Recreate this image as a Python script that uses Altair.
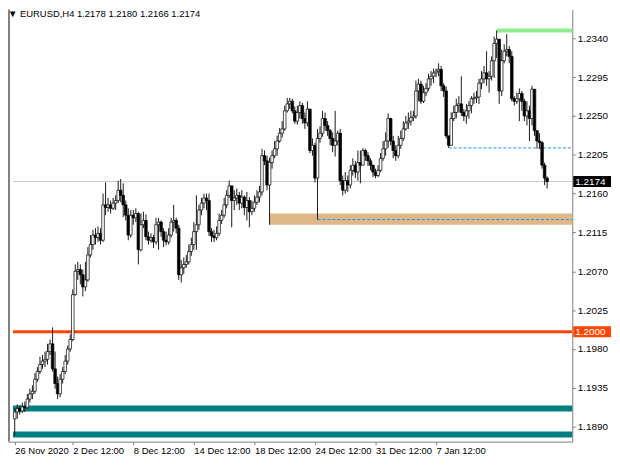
import altair as alt
import pandas as pd

# ---------------- data ----------------
symbol = "EURUSD,H4"
first_open = 1.1899

closes = [
    1.1907, 1.1911, 1.1908, 1.1913, 1.1912, 1.1922, 1.1928, 1.1931, 1.1945, 1.1954,
    1.1962, 1.1966, 1.1968, 1.1977, 1.1986, 1.1957, 1.1940, 1.1928, 1.1945, 1.1954,
    1.1966, 1.1980, 1.1991, 1.2043, 1.2070, 1.2072, 1.2066, 1.2052, 1.2060, 1.2089,
    1.2101, 1.2112, 1.2109, 1.2114, 1.2106, 1.2147, 1.2144, 1.2147, 1.2143, 1.2149,
    1.2152, 1.2164, 1.2158, 1.2147, 1.2135, 1.2112, 1.2135, 1.2132, 1.2137, 1.2095,
    1.2124, 1.2129, 1.2110, 1.2106, 1.2109, 1.2104, 1.2124, 1.2127, 1.2116, 1.2106,
    1.2104, 1.2112, 1.2127, 1.2129, 1.2120, 1.2066, 1.2074, 1.2078, 1.2081, 1.2093,
    1.2101, 1.2116, 1.2124, 1.2141, 1.2149, 1.2155, 1.2152, 1.2116, 1.2111, 1.2109,
    1.2114, 1.2129, 1.2135, 1.2147, 1.2158, 1.2169, 1.2152, 1.2155, 1.2158, 1.2149,
    1.2156, 1.2144, 1.2152, 1.2139, 1.2143, 1.2150, 1.2156, 1.2162, 1.2204, 1.2198,
    1.2170, 1.2196, 1.2204, 1.2212, 1.2221, 1.2230, 1.2235, 1.2256, 1.2264, 1.2267,
    1.2256, 1.2244, 1.2254, 1.2262, 1.2247, 1.2242, 1.2258, 1.2210, 1.2216, 1.2178,
    1.2224, 1.2230, 1.2247, 1.2239, 1.2233, 1.2224, 1.2216, 1.2221, 1.2230, 1.2175,
    1.2164, 1.2175, 1.2170, 1.2187, 1.2193, 1.2185, 1.2196, 1.2193, 1.2210, 1.2204,
    1.2198, 1.2193, 1.2185, 1.2181, 1.2187, 1.2201, 1.2212, 1.2221, 1.2247, 1.2221,
    1.2210, 1.2204, 1.2216, 1.2224, 1.2235, 1.2242, 1.2244, 1.2248, 1.2250, 1.2279,
    1.2287, 1.2267, 1.2277, 1.2282, 1.2293, 1.2296, 1.2300, 1.2302, 1.2304, 1.2285,
    1.2279, 1.2227, 1.2216, 1.2247, 1.2254, 1.2262, 1.2264, 1.2254, 1.2250, 1.2256,
    1.2262, 1.2270, 1.2271, 1.2272, 1.2288, 1.2293, 1.2300, 1.2293, 1.2296, 1.2314,
    1.2334, 1.2339, 1.2279, 1.2314, 1.2325, 1.2327, 1.2319, 1.2270, 1.2267, 1.2270,
    1.2276, 1.2267, 1.2250, 1.2256, 1.2247, 1.2281, 1.2233, 1.2221, 1.2219, 1.2193,
    1.2178, 1.2174,
]

highs = [
    1.1911, 1.1916, 1.1915, 1.1918, 1.1919, 1.1928, 1.1934, 1.1938, 1.1952, 1.1959,
    1.1971, 1.1973, 1.1977, 1.1986, 1.1991, 1.2005, 1.1977, 1.1948, 1.1951, 1.1959,
    1.1973, 1.1984, 1.1997, 1.2049, 1.2078, 1.2081, 1.2078, 1.2072, 1.2081, 1.2098,
    1.2112, 1.2118, 1.2120, 1.2122, 1.2120, 1.2160, 1.2173, 1.2155, 1.2152, 1.2155,
    1.2158, 1.2175, 1.2177, 1.2172, 1.2152, 1.2143, 1.2141, 1.2141, 1.2143, 1.2139,
    1.2137, 1.2139, 1.2136, 1.2116, 1.2114, 1.2112, 1.2132, 1.2132, 1.2129, 1.2120,
    1.2116, 1.2120, 1.2132, 1.2147, 1.2132, 1.2124, 1.2083, 1.2086, 1.2089, 1.2101,
    1.2109, 1.2127, 1.2158, 1.2147, 1.2155, 1.2160, 1.2160, 1.2160, 1.2120, 1.2118,
    1.2122, 1.2137, 1.2141, 1.2155, 1.2164, 1.2175, 1.2169, 1.2164, 1.2166, 1.2162,
    1.2164, 1.2158, 1.2162, 1.2156, 1.2152, 1.2158, 1.2164, 1.2169, 1.2212, 1.2210,
    1.2204, 1.2202, 1.2210, 1.2221, 1.2227, 1.2236, 1.2244, 1.2262, 1.2271, 1.2271,
    1.2270, 1.2261, 1.2262, 1.2267, 1.2265, 1.2254, 1.2267, 1.2258, 1.2224, 1.2219,
    1.2235, 1.2238, 1.2256, 1.2254, 1.2244, 1.2235, 1.2231, 1.2256, 1.2233, 1.2235,
    1.2181, 1.2185, 1.2181, 1.2193, 1.2201, 1.2198, 1.2210, 1.2210, 1.2213, 1.2212,
    1.2208, 1.2201, 1.2193, 1.2189, 1.2193, 1.2207, 1.2221, 1.2231, 1.2253, 1.2248,
    1.2227, 1.2216, 1.2227, 1.2233, 1.2244, 1.2250, 1.2254, 1.2256, 1.2256, 1.2291,
    1.2293, 1.2291, 1.2285, 1.2288, 1.2299, 1.2302, 1.2305, 1.2305, 1.2311, 1.2308,
    1.2288, 1.2284, 1.2227, 1.2254, 1.2262, 1.2270, 1.2273, 1.2296, 1.2258, 1.2264,
    1.2267, 1.2273, 1.2277, 1.2279, 1.2293, 1.2302, 1.2308, 1.2325, 1.2302, 1.2319,
    1.2342, 1.2349, 1.2337, 1.2327, 1.2333, 1.2345, 1.2331, 1.2325, 1.2273, 1.2277,
    1.2282, 1.2279, 1.2270, 1.2267, 1.2262, 1.2285, 1.2281, 1.2233, 1.2230, 1.2221,
    1.2196, 1.2180,
]

lows = [
    1.1879, 1.1899, 1.1904, 1.1906, 1.1907, 1.1911, 1.1918, 1.1922, 1.1928, 1.1942,
    1.1951, 1.1957, 1.1959, 1.1962, 1.1973, 1.1954, 1.1934, 1.1922, 1.1924, 1.1940,
    1.1951, 1.1962, 1.1977, 1.1989, 1.2042, 1.2060, 1.2055, 1.2041, 1.2047, 1.2058,
    1.2086, 1.2095, 1.2101, 1.2104, 1.2101, 1.2104, 1.2135, 1.2139, 1.2137, 1.2141,
    1.2141, 1.2149, 1.2150, 1.2133, 1.2129, 1.2106, 1.2109, 1.2124, 1.2127, 1.2078,
    1.2093, 1.2120, 1.2106, 1.2101, 1.2103, 1.2097, 1.2101, 1.2095, 1.2110, 1.2098,
    1.2100, 1.2101, 1.2109, 1.2116, 1.2114, 1.2060, 1.2057, 1.2067, 1.2074, 1.2078,
    1.2088, 1.2095, 1.2095, 1.2118, 1.2135, 1.2143, 1.2141, 1.2111, 1.2104, 1.2104,
    1.2106, 1.2111, 1.2125, 1.2132, 1.2143, 1.2155, 1.2121, 1.2141, 1.2147, 1.2141,
    1.2143, 1.2135, 1.2129, 1.2121, 1.2135, 1.2139, 1.2147, 1.2150, 1.2158, 1.2193,
    1.2164, 1.2124, 1.2189, 1.2201, 1.2204, 1.2219, 1.2225, 1.2233, 1.2254, 1.2258,
    1.2253, 1.2241, 1.2240, 1.2247, 1.2241, 1.2235, 1.2238, 1.2207, 1.2204, 1.2173,
    1.2130, 1.2219, 1.2226, 1.2233, 1.2227, 1.2216, 1.2208, 1.2203, 1.2216, 1.2170,
    1.2158, 1.2160, 1.2162, 1.2166, 1.2181, 1.2178, 1.2175, 1.2172, 1.2193, 1.2198,
    1.2192, 1.2187, 1.2179, 1.2178, 1.2179, 1.2185, 1.2198, 1.2204, 1.2213, 1.2216,
    1.2201, 1.2198, 1.2201, 1.2212, 1.2221, 1.2233, 1.2235, 1.2239, 1.2244, 1.2247,
    1.2267, 1.2264, 1.2265, 1.2273, 1.2279, 1.2285, 1.2288, 1.2295, 1.2296, 1.2279,
    1.2272, 1.2224, 1.2213, 1.2216, 1.2244, 1.2247, 1.2254, 1.2250, 1.2244, 1.2241,
    1.2247, 1.2253, 1.2264, 1.2265, 1.2264, 1.2281, 1.2288, 1.2285, 1.2277, 1.2291,
    1.2294, 1.2317, 1.2264, 1.2273, 1.2311, 1.2319, 1.2311, 1.2267, 1.2262, 1.2264,
    1.2244, 1.2256, 1.2244, 1.2239, 1.2221, 1.2239, 1.2227, 1.2212, 1.2212, 1.2189,
    1.2170, 1.2166,
]

tick_bars = [0, 23, 47, 71, 95, 119, 143, 167]
tick_labels = ["26 Nov 2020", "2 Dec 12:00", "8 Dec 12:00", "14 Dec 12:00",
               "18 Dec 12:00", "24 Dec 12:00", "31 Dec 12:00", "7 Jan 12:00"]
price_ticks = [1.1890, 1.1935, 1.1980, 1.2025, 1.2070, 1.2115,
               1.2160, 1.2205, 1.2250, 1.2295, 1.2340]

round_level = 1.2000
support_levels = [1.1911, 1.1881]
zone_start_bar = 101
zone_low, zone_high = 1.2124, 1.2137
dash_start_bars = [120, 172]
dash_levels = [1.2130, 1.2213]
high_bar, high_level = 191, 1.2349

# ---------------- frame ----------------
W, H = 568, 435
x_domain = [-0.7, 219]
y_domain = [1.18727, 1.23734]

opens = [first_open] + closes[:-1]
rows = []
for i, (o, h, l, c) in enumerate(zip(opens, highs, lows, closes)):
    rows.append({"bar": i, "open": o, "close": c,
                 "high": max(h, o, c), "low": min(l, o, c),
                 "dir": "up" if c >= o else "down"})
df = pd.DataFrame(rows)
current_price = closes[-1]

xs = alt.Scale(domain=x_domain, nice=False, zero=False)
ys = alt.Scale(domain=y_domain, nice=False, zero=False)

label_expr = " : ".join(f"datum.value == {b} ? '{t}'" for b, t in zip(tick_bars, tick_labels)) + " : ''"

x_axis = alt.Axis(values=tick_bars, labelExpr=label_expr, labelAlign="left",
                  labelFont="Liberation Sans", labelFontSize=9.5, labelColor="#000000",
                  labelPadding=1, tickSize=3, tickColor="#808080",
                  domainColor="#808080", grid=False, title=None,
                  labelOverlap=False, labelFlush=False)
y_axis = alt.Axis(values=price_ticks, format=".4f", orient="right",
                  labelFont="Liberation Sans", labelFontSize=10, labelColor="#000000",
                  labelPadding=2, tickSize=3, tickColor="#808080",
                  domainColor="#808080", grid=False, title=None)


def X(field):
    return alt.X(field, scale=xs, axis=x_axis)


def Y(field):
    return alt.Y(field, scale=ys, axis=y_axis)


# zone rectangle
zone = alt.Chart(pd.DataFrame({"x": [zone_start_bar], "y": [zone_high], "y2": [zone_low]})).mark_rect(
    color="#DEB887", opacity=1).encode(
    x=X("x:Q"), x2=alt.value(W), y=Y("y:Q"), y2="y2:Q")


def hline(level, color, width, dash=None, start=None):
    d = pd.DataFrame({"y": [level], "x": [start if start is not None else x_domain[0]]})
    kw = {"color": color, "strokeWidth": width}
    if dash:
        kw["strokeDash"] = dash
    return alt.Chart(d).mark_rule(**kw).encode(
        x=X("x:Q"), x2=alt.value(W), y=Y("y:Q"))


lines = [hline(current_price, "#C8C8C8", 1),
         hline(round_level, "#FF4500", 3),
         hline(support_levels[0], "#008080", 6),
         hline(support_levels[1], "#008080", 6),
         hline(high_level, "#90EE90", 4, start=high_bar)]
for b, lv in zip(dash_start_bars, dash_levels):
    lines.append(hline(lv, "#1E90FF", 1, dash=[3, 2], start=b))

wicks = alt.Chart(df).mark_rule(color="#1a1a1a", strokeWidth=1).encode(
    x=X("bar:Q"), y=Y("low:Q"), y2="high:Q")

bodies = alt.Chart(df).mark_bar(size=2.6, stroke="#000000", strokeWidth=0.7).encode(
    x=X("bar:Q"), y=Y("open:Q"), y2="close:Q",
    fill=alt.Fill("dir:N", scale=alt.Scale(domain=["up", "down"], range=["#FFFFFF", "#000000"]), legend=None))

left_border = alt.Chart(pd.DataFrame({"a": [0]})).mark_rule(color="#808080", strokeWidth=2).encode(
    x=alt.value(1), y=alt.value(0), y2=alt.value(H))

# price tags on the right axis
tags = pd.DataFrame({"y": [current_price, round_level],
                     "label": [f"{current_price:.4f}", f"{round_level:.4f}"],
                     "bg": ["#000000", "#FF4500"]})
tag_box = alt.Chart(tags).mark_tick(orient="horizontal", size=38, thickness=11, opacity=1).encode(
    x=alt.value(W + 20), y=Y("y:Q"),
    color=alt.Color("bg:N", scale=None, legend=None))
tag_text = alt.Chart(tags).mark_text(align="left", baseline="middle", color="#FFFFFF",
                                     font="Liberation Sans", fontSize=10).encode(
    x=alt.value(W + 3), y=Y("y:Q"), text="label:N")

header = f"\u25BC {symbol}  " + " ".join(f"{v:.4f}" for v in [opens[-1], highs[-1], lows[-1], closes[-1]])
title = alt.Chart(pd.DataFrame({"t": [header]})).mark_text(
    align="left", baseline="top", font="Liberation Sans", fontSize=9.5, color="#000000").encode(
    x=alt.value(0), y=alt.value(0), text="t:N")

chart = alt.layer(zone, *lines, wicks, bodies, left_border, tag_box, tag_text, title).properties(
    width=W, height=H,
    autosize=alt.AutoSizeParams(type="none"),
    padding={"left": 0, "top": 0, "right": 40, "bottom": 14},
    background="#FFFFFF",
).configure_view(stroke=None)

chart.save("out.html", embed_options={"renderer": "svg", "actions": False})
